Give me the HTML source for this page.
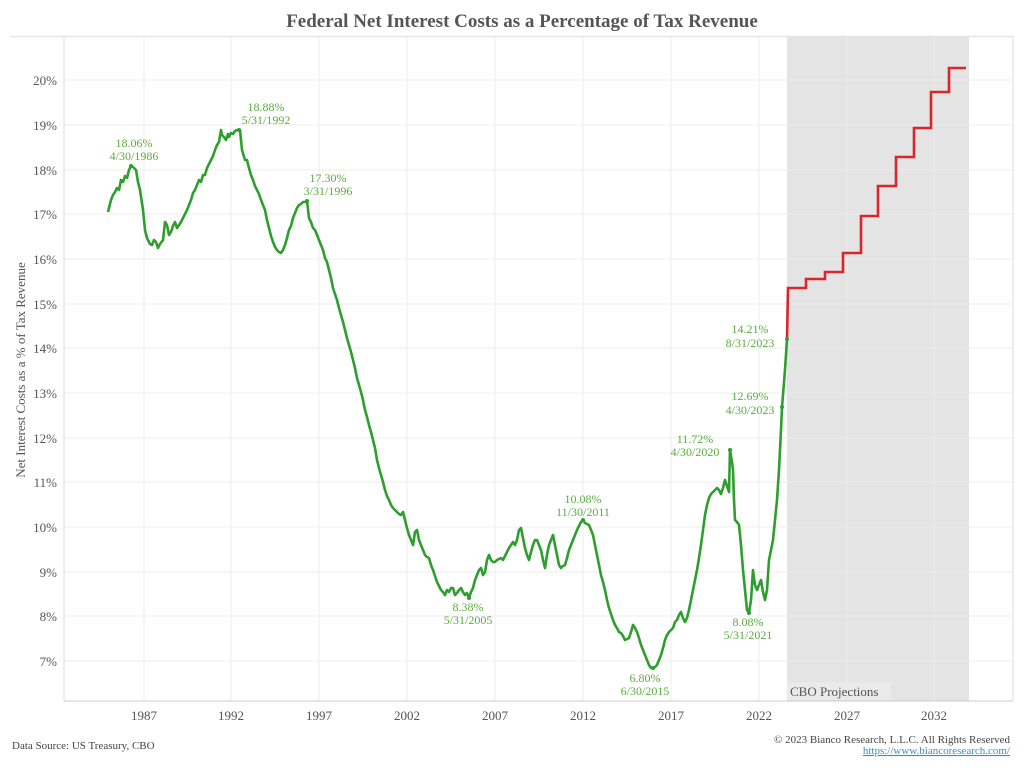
<!DOCTYPE html>
<html><head><meta charset="utf-8"><style>
body{margin:0;background:#fff;}
svg{display:block;font-family:"Liberation Serif",serif;}
</style></head><body>
<svg width="1024" height="768" viewBox="0 0 1024 768" xmlns="http://www.w3.org/2000/svg">
<text x="522" y="27" text-anchor="middle" font-size="19" font-weight="bold" fill="#555">Federal Net Interest Costs as a Percentage of Tax Revenue</text>
<line x1="10" y1="36.5" x2="1014" y2="36.5" stroke="#e6e6e6" stroke-width="1.5"/>
<rect x="787" y="37" width="182" height="664" fill="#e4e4e4"/>
<g stroke="#ececec" stroke-width="1">
<line x1="64" y1="80" x2="1013" y2="80"/><line x1="64" y1="125" x2="1013" y2="125"/><line x1="64" y1="170" x2="1013" y2="170"/><line x1="64" y1="214" x2="1013" y2="214"/><line x1="64" y1="259" x2="1013" y2="259"/><line x1="64" y1="304" x2="1013" y2="304"/><line x1="64" y1="348" x2="1013" y2="348"/><line x1="64" y1="393" x2="1013" y2="393"/><line x1="64" y1="438" x2="1013" y2="438"/><line x1="64" y1="482" x2="1013" y2="482"/><line x1="64" y1="527" x2="1013" y2="527"/><line x1="64" y1="572" x2="1013" y2="572"/><line x1="64" y1="616" x2="1013" y2="616"/><line x1="64" y1="661" x2="1013" y2="661"/>
<line x1="144" y1="37" x2="144" y2="701"/><line x1="231" y1="37" x2="231" y2="701"/><line x1="319" y1="37" x2="319" y2="701"/><line x1="407" y1="37" x2="407" y2="701"/><line x1="495" y1="37" x2="495" y2="701"/><line x1="583" y1="37" x2="583" y2="701"/><line x1="671" y1="37" x2="671" y2="701"/><line x1="759" y1="37" x2="759" y2="701"/><line x1="847" y1="37" x2="847" y2="701"/><line x1="934" y1="37" x2="934" y2="701"/>
</g>
<line x1="64" y1="37" x2="64" y2="701" stroke="#ddd"/>
<line x1="1013" y1="37" x2="1013" y2="701" stroke="#ddd"/>
<line x1="64" y1="701" x2="1013" y2="701" stroke="#ccc"/>
<g font-size="13" fill="#555" text-anchor="end">
<text x="57" y="85">20%</text><text x="57" y="130">19%</text><text x="57" y="175">18%</text><text x="57" y="219">17%</text><text x="57" y="264">16%</text><text x="57" y="309">15%</text><text x="57" y="353">14%</text><text x="57" y="398">13%</text><text x="57" y="443">12%</text><text x="57" y="487">11%</text><text x="57" y="532">10%</text><text x="57" y="577">9%</text><text x="57" y="621">8%</text><text x="57" y="666">7%</text>
</g>
<g font-size="13" fill="#555" text-anchor="middle">
<text x="144" y="720">1987</text><text x="231" y="720">1992</text><text x="319" y="720">1997</text><text x="407" y="720">2002</text><text x="495" y="720">2007</text><text x="583" y="720">2012</text><text x="671" y="720">2017</text><text x="759" y="720">2022</text><text x="847" y="720">2027</text><text x="934" y="720">2032</text>
</g>
<text transform="translate(25,370) rotate(-90)" text-anchor="middle" font-size="13" fill="#555">Net Interest Costs as a % of Tax Revenue</text>
<rect x="787" y="682" width="104" height="18" fill="#eaeaea"/>
<text x="790" y="696" font-size="13" fill="#555">CBO Projections</text>
<polyline fill="none" stroke="#2e9e2e" stroke-width="2.6" stroke-linejoin="round" points="108,212 111,200 113,195 115,192 117,188 119,190 121,180 123,182 125,176 127,178 129,170 131,166 133,167 136,170 138,182 140,190 143,210 145,230 147,238 150,244 152,245 154,240 156,242 158,248 160,244 163,240 165,222 167,225 169,235 171,232 173,226 175,222 177,228 179,225 181,222 183,218 185,214 187,210 189,205 191,200 193,193 195,190 197,185 199,180 201,182 203,175 205,175 207,168 209,164 211,160 213,156 215,150 217,145 219,142 221,130 222,135 224,137 226,140 228,134 229,137 231,133 233,134 235,131 237,130 239,130 240,130 242,150 245,160 247,160 249,168 251,175 253,180 255,186 257,190 259,194 261,200 263,205 265,210 267,220 269,228 271,236 273,242 275,247 277,250 279,252 281,253 283,250 285,245 287,238 289,230 291,226 293,218 295,213 297,208 299,205 301,204 303,202 305,202 307,201 309,218 311,222 313,228 315,230 317,235 319,240 321,245 323,250 325,258 327,262 329,270 331,278 333,288 335,294 337,300 339,308 341,315 343,322 345,330 347,338 349,345 351,352 353,360 355,368 357,378 359,385 361,392 363,400 365,410 367,417 369,425 371,432 373,440 375,448 377,460 379,468 381,475 383,482 385,490 387,496 389,500 391,505 393,508 395,510 397,512 399,514 401,515 403,512 405,520 407,528 409,535 411,540 413,545 415,532 417,530 419,540 421,545 423,550 425,555 427,557 429,558 431,565 433,570 435,576 437,582 439,586 441,590 443,592 445,595 447,590 449,592 451,588 453,588 455,595 457,593 459,590 461,588 463,592 465,595 467,593 469,598 471,592 473,588 475,580 477,575 479,570 481,568 483,575 485,572 487,560 489,555 491,560 493,562 495,562 497,560 499,559 501,558 503,560 505,556 507,552 509,548 511,545 513,542 515,545 517,540 519,530 521,528 523,538 525,548 527,555 529,560 531,552 533,545 535,540 537,540 539,545 541,550 543,560 545,568 547,555 549,545 551,540 553,535 555,545 557,555 559,565 561,568 563,566 565,565 567,558 569,550 571,545 573,540 575,535 577,530 579,526 581,522 583,520 585,523 587,524 589,525 591,530 593,535 595,545 597,555 599,565 601,575 603,582 605,590 607,600 609,608 611,614 613,620 615,625 617,628 619,632 621,633 623,636 625,640 627,639 629,638 631,632 633,625 635,628 637,632 639,638 641,645 643,650 645,655 647,660 649,665 651,668 653,668 655,667 657,665 659,660 661,655 663,648 665,640 667,635 669,632 671,630 673,628 675,622 677,620 679,615 681,612 683,618 685,622 687,618 689,610 691,600 693,590 695,580 697,570 699,558 701,545 703,530 705,515 707,505 709,498 711,494 713,492 715,490 717,488 719,490 721,494 723,488 725,480 727,486 729,492 730,450 732,462 733,470 734,500 735,520 737,522 739,525 741,545 743,570 745,590 747,610 749,613 751,600 753,570 755,585 757,590 759,585 761,580 763,592 765,600 767,590 769,560 771,550 773,540 775,520 777,500 779,470 781,430 782,407 785,370 787,339"/>
<polyline fill="none" stroke="#d9262b" stroke-width="2.6" points="787,339 788,288 806,288 806,279 825,279 825,272 843,272 843,253 861,253 861,216 878,216 878,186 896,186 896,157 914,157 914,128 931,128 931,92 949,92 949,68 966,68"/>
<g fill="#2e9e2e"><circle cx="131" cy="166" r="2"/><circle cx="239" cy="130" r="2"/><circle cx="307" cy="201" r="2"/><circle cx="469" cy="598" r="2"/><circle cx="583" cy="520" r="2"/><circle cx="653" cy="668" r="2"/><circle cx="730" cy="450" r="2"/><circle cx="749" cy="613" r="2"/><circle cx="782" cy="407" r="2"/><circle cx="787" cy="339" r="2"/></g>
<g font-size="12" fill="#5aae3c" text-anchor="middle">
<text x="134" y="147">18.06%</text><text x="134" y="160">4/30/1986</text>
<text x="266" y="111">18.88%</text><text x="266" y="124">5/31/1992</text>
<text x="328" y="182">17.30%</text><text x="328" y="195">3/31/1996</text>
<text x="468" y="611">8.38%</text><text x="468" y="624">5/31/2005</text>
<text x="583" y="503">10.08%</text><text x="583" y="516">11/30/2011</text>
<text x="645" y="682">6.80%</text><text x="645" y="695">6/30/2015</text>
<text x="695" y="443">11.72%</text><text x="695" y="456">4/30/2020</text>
<text x="748" y="626">8.08%</text><text x="748" y="639">5/31/2021</text>
<text x="750" y="400">12.69%</text><text x="750" y="414">4/30/2023</text>
<text x="750" y="333">14.21%</text><text x="750" y="347">8/31/2023</text>
</g>
<text x="12" y="749" font-size="11" fill="#444">Data Source: US Treasury, CBO</text>
<text x="1010" y="743" font-size="11" fill="#444" text-anchor="end">© 2023 Bianco Research, L.L.C. All Rights Reserved</text>
<text x="1010" y="754" font-size="11" fill="#3b8fc4" text-anchor="end" text-decoration="underline">https://www.biancoresearch.com/</text>
</svg>
</body></html>
